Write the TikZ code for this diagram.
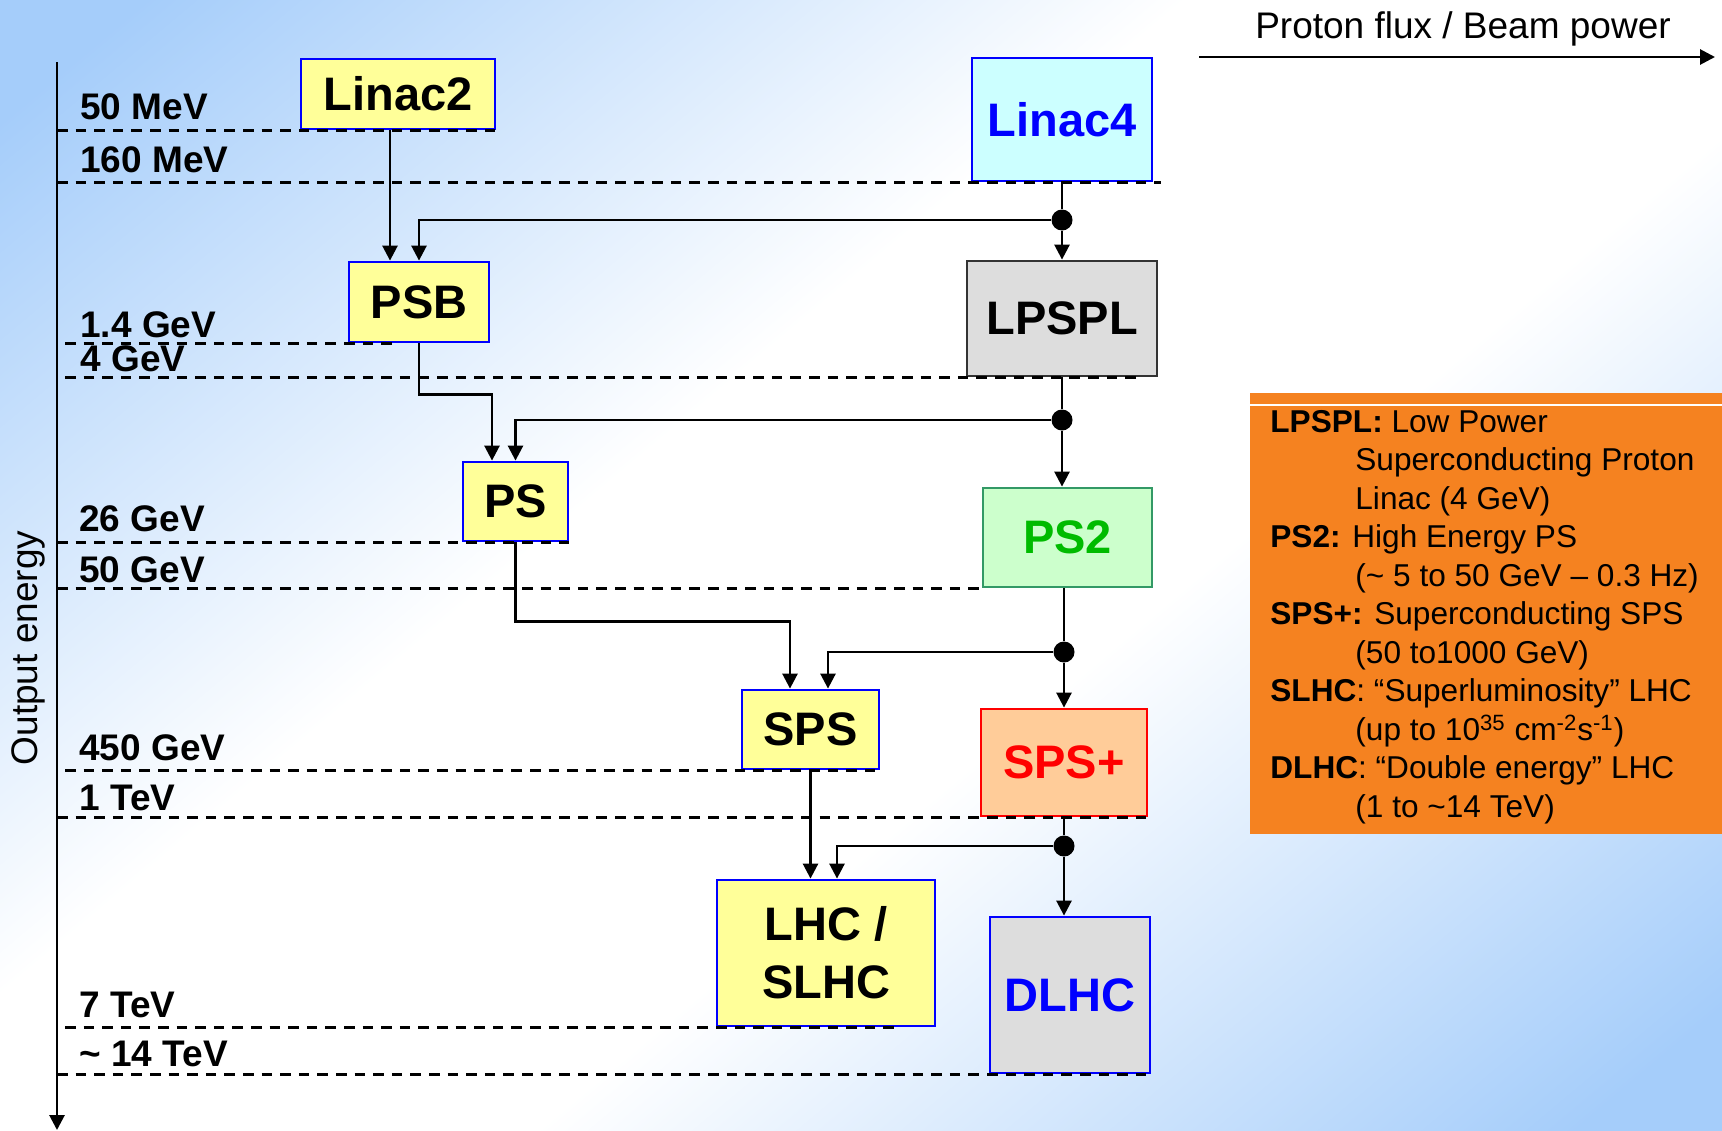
\documentclass[tikz,border=0pt]{standalone}
\usepackage{fontspec}
\usepackage{xcolor}
\usepackage{tikz}
\usetikzlibrary{arrows.meta}
\setmainfont{Liberation Sans}

\definecolor{accyellow}{HTML}{FFFF99}
\definecolor{acccyan}{HTML}{CCFFFF}
\definecolor{accgrey}{HTML}{DDDDDD}
\definecolor{accgreen}{HTML}{CCFFCC}
\definecolor{accpeach}{HTML}{FFCC99}
\definecolor{ps2border}{HTML}{339966}
\definecolor{ps2text}{HTML}{00BB00}
\definecolor{lpsplborder}{HTML}{333333}
\definecolor{legendorange}{RGB}{245,130,32}
\definecolor{bgblue}{RGB}{165,205,250}

\pgfdeclareverticalshading{bg-shade}{100bp}{color(0bp)=(bgblue); color(18bp)=(bgblue); color(42bp)=(white); color(58bp)=(white); color(82bp)=(bgblue); color(100bp)=(bgblue)}

\newcommand{\legindent}{\hspace*{42.5pt}}

\tikzset{
    acc-box/.style = {draw=blue, fill=accyellow, line width=1.4pt, rectangle, inner sep=0pt, align=center, font=\bfseries\fontsize{23.5pt}{29pt}\selectfont},
    link/.style = {line width=1.3pt},
    flow/.style = {link, -{Triangle[length=7.5pt, width=7.5pt]}},
    axis-arrow/.style = {line width=1.4pt, -{Triangle[length=7.5pt, width=7.5pt]}},
    split-dot/.style = {circle, fill=black, inner sep=0pt, minimum size=10.5pt},
    energy-line/.style = {dash pattern=on 5.3pt off 4pt, line width=1.15pt},
    energy-label/.style = {anchor=base west, inner sep=0pt, font=\bfseries\fontsize{18.5pt}{22pt}\selectfont},
    legend-box/.style = {fill=legendorange, rectangle, inner sep=0pt, anchor=north west},
    legend-text/.style = {anchor=north west, inner sep=0pt, align=left, font=\fontsize{15.8pt}{19.25pt}\selectfont},
}

\begin{document}
\begin{tikzpicture}[x=0.5pt, y=-0.5pt]
\useasboundingbox (0,0) rectangle (1722,1130);
\shade[shading=bg-shade, shading angle=40] (0,0) rectangle (1722,1130);

% accelerators
\node[acc-box, minimum width=97pt, minimum height=35pt] (Linac2) at (398,94) {Linac2};
\node[acc-box, fill=acccyan, text=blue, minimum width=90pt, minimum height=61.5pt] (Linac4) at (1062,119.5) {Linac4};
\node[acc-box, minimum width=70pt, minimum height=40pt] (PSB) at (419,302) {PSB};
\node[acc-box, draw=lpsplborder, fill=accgrey, minimum width=95pt, minimum height=57.5pt] (LPSPL) at (1062,318.5) {LPSPL};
\node[acc-box, minimum width=52.5pt, minimum height=39.5pt] (PS) at (515.5,501.5) {PS};
\node[acc-box, draw=ps2border, fill=accgreen, text=ps2text, minimum width=84.5pt, minimum height=49.5pt] (PS2) at (1067.5,537.5) {PS2};
\node[acc-box, minimum width=68.5pt, minimum height=39.5pt] (SPS) at (810.5,729.5) {SPS};
\node[acc-box, draw=red, fill=accpeach, text=red, minimum width=83pt, minimum height=53.5pt] (SPSplus) at (1064,762.5) {SPS+};
\node[acc-box, minimum width=109pt, minimum height=73pt] (LHC) at (826,953) {LHC /\\SLHC};
\node[acc-box, fill=accgrey, text=blue, minimum width=80pt, minimum height=78pt] (DLHC) at (1070,995) {DLHC};

\node[split-dot] (split1) at (1062,220) {};
\node[split-dot] (split2) at (1062,420) {};
\node[split-dot] (split3) at (1064,652) {};
\node[split-dot] (split4) at (1064,846) {};

% present chain
\draw[flow] ([xshift=-4pt]Linac2.south) -- ([xshift=-4pt]Linac2.south |- PSB.north);
\draw[flow] (PSB.south) -- ++(0,-25.5pt) -| ([xshift=-11.75pt]PS.north);
\draw[flow] (PS.south) -- ++(0,-39.5pt) -| ([xshift=-10.25pt]SPS.north);
\draw[flow] (SPS.south) -- (SPS.south |- LHC.north);

% upgrade chain
\draw[link] (Linac4) -- (split1);
\draw[flow] (split1) -- (LPSPL);
\draw[flow] (split1) -| (PSB.north);
\draw[link] (LPSPL) -- (split2);
\draw[flow] (split2) -- (split2 |- PS2.north);
\draw[flow] (split2) -| (PS.north);
\draw[link] (PS2.south -| split3) -- (split3);
\draw[flow] (split3) -- (SPSplus);
\draw[flow] (split3) -| ([xshift=8.75pt]SPS.north);
\draw[link] (SPSplus) -- (split4);
\draw[flow] (split4) -- (split4 |- DLHC.north);
\draw[flow] (split4) -| ([xshift=5.5pt]LHC.north);

% energy axis
\coordinate (axis-top) at (57,62);
\coordinate (axis-in) at (65,62);
\coordinate (axis-end) at (57,1130);
\draw[axis-arrow] (axis-top) -- (axis-end);
\node[rotate=90, font=\fontsize{18.5pt}{22pt}\selectfont] (energy-title) at (28,648) {Output energy};

\draw[energy-line] (axis-top |- Linac2.south) -- ([xshift=1pt]Linac2.south east);
\draw[energy-line] (axis-top |- Linac4.south) -- ([xshift=4pt]Linac4.south east);
\draw[energy-line] (axis-in |- PSB.south) -- ([xshift=22.5pt]PSB.south west);
\draw[energy-line] (axis-in |- LPSPL.south) -- ([xshift=-8pt]LPSPL.south east);
\draw[energy-line] (axis-top |- PS.south) -- (PS.south east);
\draw[energy-line] (axis-top |- PS2.south) -- (PS2.south west);
\draw[energy-line] (axis-in |- SPS.south) -- (SPS.south east);
\draw[energy-line] (axis-top |- SPSplus.south) -- (SPSplus.south east);
\draw[energy-line] (axis-in |- LHC.south) -- ([xshift=-21pt]LHC.south east);
\draw[energy-line] (axis-top |- DLHC.south) -- (DLHC.south east);

\node[energy-label] (lbl-50MeV) at (80,119) {50 MeV};
\node[energy-label] (lbl-160MeV) at (80,172) {160 MeV};
\node[energy-label] (lbl-1p4GeV) at (80,337) {1.4 GeV};
\node[energy-label] (lbl-4GeV) at (80,371) {4 GeV};
\node[energy-label] (lbl-26GeV) at (79,531) {26 GeV};
\node[energy-label] (lbl-50GeV) at (79,582) {50 GeV};
\node[energy-label] (lbl-450GeV) at (79,760) {450 GeV};
\node[energy-label] (lbl-1TeV) at (79,810) {1 TeV};
\node[energy-label] (lbl-7TeV) at (79,1017) {7 TeV};
\node[energy-label] (lbl-14TeV) at (79,1066) {\textasciitilde\ 14 TeV};

% flux axis
\coordinate (flux-start) at (1199,57);
\coordinate (flux-end) at (1715,57);
\draw[axis-arrow] (flux-start) -- (flux-end);
\node[anchor=base, inner sep=0pt, font=\fontsize{18.5pt}{22pt}\selectfont] (flux-title) at (1463,38) {Proton flux / Beam power};

% legend
\node[legend-box, minimum width=240pt, minimum height=220.5pt] (legend) at (1250,393) {};
\draw[white, line width=0.6pt] ([yshift=-6pt]legend.north west) -- ([yshift=-6pt]legend.north east);
\node[legend-text] (legend-text) at (1270,410) {\textbf{LPSPL:} Low Power\\
\legindent Superconducting Proton\\
\legindent Linac (4 GeV)\\
\textbf{PS2:} High Energy PS\\
\legindent (\textasciitilde\ 5 to 50 GeV \textendash\ 0.3 Hz)\\
\textbf{SPS+:} Superconducting SPS\\
\legindent (50 to1000 GeV)\\
\textbf{SLHC}: “Superluminosity” LHC\\
\legindent (up to 10\textsuperscript{35} cm\textsuperscript{-2}s\textsuperscript{-1})\\
\textbf{DLHC}: “Double energy” LHC\\
\legindent (1 to \textasciitilde 14 TeV)};
\end{tikzpicture}
\end{document}
